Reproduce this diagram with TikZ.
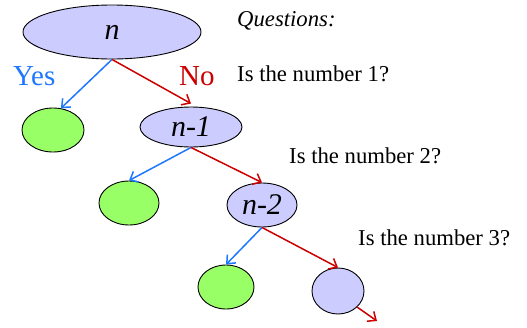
\documentclass[tikz,border=0pt]{standalone}
\usepackage{fontspec}
\setmainfont{Liberation Serif}
\usetikzlibrary{shapes.geometric,arrows.meta}
\definecolor{lav}{RGB}{204,204,255}
\definecolor{lgreen}{RGB}{153,255,102}
\definecolor{ablue}{RGB}{30,120,255}
\definecolor{ared}{RGB}{204,0,0}
\begin{document}
\begin{tikzpicture}[x=1pt,y=-1pt,
  qnode/.style={ellipse,draw=black,line width=0.9pt,fill=lav,inner sep=0pt,
    font=\fontsize{30}{34}\selectfont\itshape},
  leaf/.style={ellipse,draw=black,line width=0.9pt,fill=lgreen,inner sep=0pt},
  yesarrow/.style={draw=ablue,line width=1.5pt,-{Straight Barb[length=7pt,width=12pt]}},
  noarrow/.style={draw=ared,line width=1.5pt,-{Straight Barb[length=7pt,width=12pt]}},
  qtext/.style={anchor=base west,inner sep=0pt,font=\fontsize{22.7}{26}\selectfont},
  lbl/.style={anchor=base west,inner sep=0pt,font=\fontsize{29}{33}\selectfont}]
\useasboundingbox (0,0) rectangle (527,327);
\node[qnode,minimum width=178pt,minimum height=54pt] (n) at (112,32) {n};
\node[leaf,minimum width=62pt,minimum height=44pt] (g1) at (53,130) {};
\node[qnode,minimum width=102pt,minimum height=40pt] (n1) at (191,127) {n-1};
\node[leaf,minimum width=60pt,minimum height=44pt] (g2) at (129,203) {};
\node[qnode,minimum width=70pt,minimum height=44pt] (n2) at (262,205) {n-2};
\node[leaf,minimum width=56pt,minimum height=44pt] (g3) at (226,287) {};
\node[ellipse,draw=black,line width=0.9pt,fill=lav,inner sep=0pt,minimum width=52pt,minimum height=46pt] (p) at (338,291) {};
\coordinate (end) at (377,321);
\draw[yesarrow] (n.south) -- (g1.70);
\draw[noarrow] (n.south) -- ([yshift=3pt]n1.north);
\draw[yesarrow] (n1.south) -- (g2.north);
\draw[noarrow] (n1.south) -- (n2.north);
\draw[yesarrow] (n2.south) -- (g3.north);
\draw[noarrow] (n2.south) -- (p.north);
\draw[noarrow] (p.-40) -- (end);
\node[lbl,text=ablue] (yes) at (13,85) {Yes};
\node[lbl,text=ared] (no) at (179,85) {No};
\node[qtext,font=\fontsize{22.7}{26}\selectfont\itshape] (q) at (237,26) {Questions:};
\node[qtext] (q1) at (237,81) {Is the number 1?};
\node[qtext] (q2) at (289,163) {Is the number 2?};
\node[qtext] (q3) at (358,245) {Is the number 3?};
\end{tikzpicture}
\end{document}
